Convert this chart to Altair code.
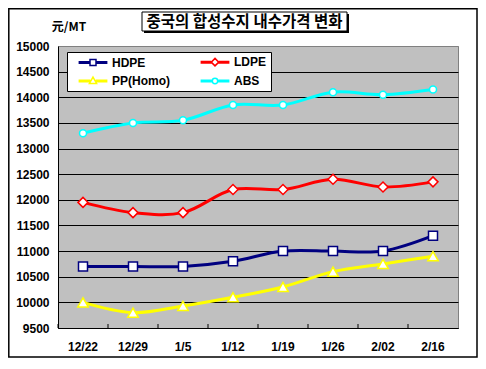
import altair as alt
import pandas as pd

dates = ["12/22", "12/29", "1/5", "1/12", "1/19", "1/26", "2/02", "2/16"]
series = ["HDPE", "LDPE", "PP(Homo)", "ABS"]
hdpe = [10700, 10700, 10700, 10800, 11000, 11000, 11000, 11300]
ldpe = [11950, 11750, 11750, 12200, 12200, 12400, 12250, 12350]
pp = [10000, 9800, 9930, 10100, 10300, 10600, 10750, 10900]
abs_ = [13300, 13500, 13550, 13850, 13850, 14100, 14050, 14150]
y_ticks = [9500, 10000, 10500, 11000, 11500, 12000, 12500, 13000, 13500, 14000, 14500, 15000]
title_text = "중국의 합성수지 내수가격 변화"
unit_text = "元/MT"

colors = ["#000080", "#FF0000", "#FFFF00", "#00FFFF"]
shapes = ["square", "diamond", "triangle-up", "circle"]
sizes = [81, 100, 110, 49]

rows = []
for s, vals in zip(series, [hdpe, ldpe, pp, abs_]):
    for d, v in zip(dates, vals):
        rows.append({"date": d, "series": s, "price": v})
df = pd.DataFrame(rows)

W, H = 400, 282
FONT = "Liberation Sans"

xscale = alt.Scale(type="band", domain=dates, paddingInner=0, paddingOuter=0)
yscale = alt.Scale(domain=[9500, 15000], nice=False, zero=False)

x_axis = alt.Axis(title=None, labelAngle=0, labelFont=FONT, labelFontSize=12,
                  labelFontWeight="bold", labelColor="black", labelPadding=13,
                  ticks=False, domainColor="black", domainWidth=1, grid=False)
y_axis = alt.Axis(title=None, values=y_ticks, format="d", labelOverlap=False,
                  labelFont=FONT, labelFontSize=12,
                  labelFontWeight="bold", labelColor="black", labelPadding=9,
                  ticks=False, domainColor="black", domainWidth=1, grid=True,
                  gridColor={"condition": {"test": "datum.value == 15000", "value": "#808080"},
                             "value": "black"},
                  gridWidth=1, gridOpacity=1)

base = alt.Chart(df)

lines = base.mark_line(strokeWidth=3, interpolate="catmull-rom").encode(
    x=alt.X("date:N", sort=dates, scale=xscale, axis=x_axis),
    y=alt.Y("price:Q", scale=yscale, axis=y_axis),
    color=alt.Color("series:N", scale=alt.Scale(domain=series, range=colors), legend=None),
    detail="series:N",
)

point_layers = []
for s, c, sh, sz in zip(series, colors, shapes, sizes):
    point_layers.append(
        base.transform_filter(alt.datum.series == s).mark_point(
            shape=sh, size=sz, filled=True, fill="white", stroke=c, strokeWidth=1.5, opacity=1
        ).encode(
            x=alt.X("date:N", sort=dates, scale=xscale, axis=x_axis),
            y=alt.Y("price:Q", scale=yscale, axis=y_axis),
        )
    )

# x tick marks pointing inward at band boundaries
ticks = alt.Chart(pd.DataFrame({"date": dates})).mark_rule(color="black", strokeWidth=1).encode(
    x=alt.X("date:N", sort=dates, scale=xscale, bandPosition=0, axis=x_axis),
    y=alt.value(H - 4), y2=alt.value(H),
)

# legend symbols: line with marker (custom paths)
L, t = 4.8, 0.25
def with_line(marker, r):
    return (f"M{-L},{-t}H{-r}M{-L},{t}H{-r}M{r},{-t}H{L}M{r},{t}H{L}" + marker)

path_for = {
    "HDPE": with_line("M-1,-1H1V1H-1Z", 1),
    "LDPE": with_line("M0,-1.25L1.25,0L0,1.25L-1.25,0Z", 1.25),
    "PP(Homo)": with_line("M0,-1.3L1.2,0.8L-1.2,0.8Z", 0.9),
    "ABS": with_line("M-0.9,0A0.9,0.9,0,1,0,0.9,0A0.9,0.9,0,1,0,-0.9,0Z", 0.9),
}
color_for = dict(zip(series, colors))
# legend fills column by column: HDPE/PP in column 1, LDPE/ABS in column 2
legend_order = ["HDPE", "PP(Homo)", "LDPE", "ABS"]

leg = alt.Legend(orient="none", legendX=9, legendY=6, columns=2, title=None,
                 fillColor="white", strokeColor="black", padding=4,
                 labelFont=FONT, labelFontSize=12, labelFontWeight="bold", labelColor="black",
                 symbolSize=36, symbolStrokeWidth=1.5, symbolFillColor="white",
                 symbolOffset=16, labelOffset=13, columnPadding=23, rowPadding=5)

legend_layer = alt.Chart(pd.DataFrame({"series": legend_order})).mark_point(
    filled=True, fill="white", opacity=1, clip=True, strokeWidth=1.5
).encode(
    x=alt.value(0), y=alt.value(-1000),
    stroke=alt.Stroke("series:N", scale=alt.Scale(domain=legend_order,
                      range=[color_for[s] for s in legend_order]), legend=leg),
    shape=alt.Shape("series:N", scale=alt.Scale(domain=legend_order,
                    range=[path_for[s] for s in legend_order]), legend=leg),
)

# decorations: outer border, title box with shadow, unit label
deco = alt.Chart(pd.DataFrame({"t": [title_text], "u": [unit_text]}))
border = deco.mark_rect(fill=None, stroke="black", strokeWidth=1.5).encode(
    x=alt.value(-49.2), x2=alt.value(419), y=alt.value(-37.2), y2=alt.value(311))
shadow = deco.mark_rect(fill="black").encode(
    x=alt.value(86), x2=alt.value(291), y=alt.value(-32), y2=alt.value(-13))
tbox = deco.mark_rect(fill="white", stroke="black", strokeWidth=1).encode(
    x=alt.value(84), x2=alt.value(289), y=alt.value(-34), y2=alt.value(-15))
ttext = deco.mark_text(font="Noto Sans CJK KR", fontSize=15.5, fontWeight="bold", color="black",
                       align="center", baseline="middle").encode(
    text="t:N", x=alt.value(186.5), y=alt.value(-24.5))
utext = deco.mark_text(font="Noto Sans CJK SC", fontSize=12, fontWeight="bold", color="black",
                       align="center", baseline="middle").encode(
    text="u:N", x=alt.value(11), y=alt.value(-19))

chart = alt.layer(
    lines, *point_layers, ticks, legend_layer, border, shadow, tbox, ttext, utext
).properties(
    width=W, height=H,
    autosize=alt.AutoSizeParams(type="none"),
    padding={"left": 50, "top": 38, "right": 20, "bottom": 30},
    background="white",
).configure_view(
    fill="#C0C0C0", stroke="#808080", strokeWidth=1
).configure_axis(
    labelOverlap=False
)

chart.save("out.html", embed_options={"renderer": "svg", "actions": False})
